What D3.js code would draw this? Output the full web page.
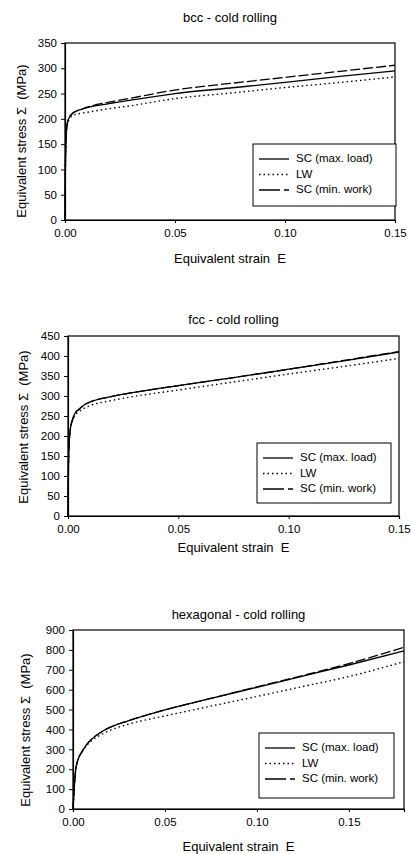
<!DOCTYPE html>
<html>
<head>
<meta charset="utf-8">
<script src="https://cdn.jsdelivr.net/npm/d3@7"></script>
<style>
  body { margin: 0; background: #fff; }
  svg { display: block; font-family: "Liberation Sans", Arial, sans-serif; }
</style>
</head>
<body>
<div id="chart"></div>
<script>
// Series names
const seriesNames = ["SC (max. load)", "LW", "SC (min. work)"];

// bcc - cold rolling
const bccStrain   = [0, 0.0002, 0.0005, 0.001, 0.002, 0.003, 0.005, 0.0075, 0.01, 0.02, 0.03, 0.05, 0.075, 0.10, 0.125, 0.15];
const bccMaxLoad  = [0, 110, 160, 190, 203, 209, 215, 219, 222, 230, 237, 250, 261, 272, 284, 295];
const bccLW       = [0, 110, 160, 188, 200, 205, 209, 211, 213, 220, 226, 240, 251, 262, 272, 283];
const bccMinWork  = [0, 110, 160, 190, 203, 209, 215, 219, 223, 233, 241, 257, 270, 282, 294, 306];
const bccYTicks   = [0, 50, 100, 150, 200, 250, 300, 350];
const bccXTicks   = [0, 0.05, 0.10, 0.15];

// fcc - cold rolling
const fccStrain   = [0, 0.0002, 0.0005, 0.001, 0.002, 0.003, 0.005, 0.0075, 0.01, 0.02, 0.03, 0.05, 0.075, 0.10, 0.125, 0.15];
const fccMaxLoad  = [0, 120, 180, 215, 240, 255, 267, 278, 285, 299, 309, 326, 346, 367, 388, 410];
const fccLW       = [0, 120, 180, 213, 237, 250, 261, 270, 276, 289, 299, 315, 335, 355, 374, 394];
const fccMinWork  = [0, 120, 180, 215, 240, 255, 267, 278, 285, 299, 309, 326, 346, 367, 389, 411];
const fccYTicks   = [0, 50, 100, 150, 200, 250, 300, 350, 400, 450];
const fccXTicks   = [0, 0.05, 0.10, 0.15];

// hexagonal - cold rolling
const hexStrain   = [0, 0.0005, 0.001, 0.0015, 0.002, 0.003, 0.005, 0.0075, 0.01, 0.015, 0.02, 0.03, 0.05, 0.075, 0.10, 0.125, 0.15, 0.18];
const hexMaxLoad  = [0, 80, 150, 200, 225, 255, 290, 325, 350, 385, 410, 443, 498, 556, 612, 668, 724, 795];
const hexLW       = [0, 80, 150, 200, 225, 255, 288, 320, 343, 372, 395, 426, 468, 517, 566, 616, 666, 741];
const hexMinWork  = [0, 80, 150, 200, 225, 255, 290, 325, 350, 385, 410, 443, 498, 556, 614, 671, 731, 813];
const hexYTicks   = [0, 100, 200, 300, 400, 500, 600, 700, 800, 900];
const hexXTicks   = [0, 0.05, 0.10, 0.15];

const W = 411, H = 854;
const svg = d3.select("#chart").append("svg")
    .attr("width", W).attr("height", H)
    .attr("viewBox", [0, 0, W, H]);

// line styles for the three series
const dashes = [null, "1.5,3", "10,3"];
const legendDashes = [null, "1.5,3", "21,4,5,4"];

const panels = [
  { title: "bcc - cold rolling", strain: bccStrain, ys: [bccMaxLoad, bccLW, bccMinWork],
    xMax: 0.15, yMax: 350, xTicks: bccXTicks, yTicks: bccYTicks,
    left: 65, right: 395, top: 43, bottom: 220, titleY: 21.5, xLabY: 263, yLabX: 23, yLabY: 141,
    legend: { x: 253, y: 144, w: 143, h: 62 } },
  { title: "fcc - cold rolling", strain: fccStrain, ys: [fccMaxLoad, fccLW, fccMinWork],
    xMax: 0.15, yMax: 450, xTicks: fccXTicks, yTicks: fccYTicks,
    left: 68, right: 399, top: 336, bottom: 516, titleY: 323.5, xLabY: 552, yLabX: 25, yLabY: 427,
    legend: { x: 257, y: 443, w: 134, h: 60 } },
  { title: "hexagonal - cold rolling", strain: hexStrain, ys: [hexMaxLoad, hexLW, hexMinWork],
    xMax: 0.18, yMax: 900, xTicks: hexXTicks, yTicks: hexYTicks,
    left: 73, right: 404, top: 630, bottom: 809, titleY: 618.5, xLabY: 851, yLabX: 27, yLabY: 730,
    legend: { x: 259, y: 733, w: 135, h: 65 } }
];

panels.forEach(p => {
  const x = d3.scaleLinear().domain([0, p.xMax]).range([p.left, p.right]);
  const y = d3.scaleLinear().domain([0, p.yMax]).range([p.bottom, p.top]);
  const g = svg.append("g");

  // Titulo
  g.append("text")
    .attr("x", (p.left + p.right) / 2).attr("y", p.titleY)
    .attr("text-anchor", "middle").attr("font-size", 13)
    .text(p.title);

  // Marco del grafico
  g.append("rect")
    .attr("x", p.left).attr("y", p.top)
    .attr("width", p.right - p.left).attr("height", p.bottom - p.top)
    .attr("fill", "none").attr("stroke", "#000").attr("stroke-width", 1.2);

  // Ejes
  const xAxis = g.append("g")
    .attr("transform", `translate(0,${p.bottom})`)
    .call(d3.axisBottom(x).tickValues(p.xTicks).tickFormat(d3.format(".2f")).tickSize(3).tickPadding(6));
  const yAxis = g.append("g")
    .attr("transform", `translate(${p.left},0)`)
    .call(d3.axisLeft(y).tickValues(p.yTicks).tickSize(4).tickPadding(4));
  [xAxis, yAxis].forEach(a => {
    a.attr("font-family", null).attr("font-size", 11.5);
    a.select(".domain").attr("stroke", "#000").attr("stroke-width", 1.2);
    a.selectAll(".tick line").attr("stroke", "#000");
    a.selectAll(".tick text").attr("fill", "#000");
  });

  // Etiquetas de ejes
  g.append("text")
    .attr("x", (p.left + p.right) / 2).attr("y", p.xLabY)
    .attr("text-anchor", "middle").attr("font-size", 13)
    .attr("xml:space", "preserve")
    .text("Equivalent strain  E");
  g.append("text")
    .attr("transform", `translate(${p.yLabX},${p.yLabY}) rotate(-90)`)
    .attr("text-anchor", "middle").attr("font-size", 13)
    .attr("dominant-baseline", "middle")
    .attr("xml:space", "preserve")
    .text("Equivalent stress \u03A3  (MPa)");

  // Curvas
  const line = d3.line()
    .x(d => x(d[0])).y(d => y(d[1]))
    .curve(d3.curveMonotoneX);
  // LW primero, luego min. work, y max. load encima
  [1, 2, 0].forEach(i => {
    const pts = p.strain.map((s, k) => [s, p.ys[i][k]]);
    g.append("path")
      .datum(pts)
      .attr("fill", "none")
      .attr("stroke", "#000")
      .attr("stroke-width", i === 1 ? 1.4 : 1.3)
      .attr("stroke-dasharray", dashes[i])
      .attr("d", line);
  });

  // Leyenda
  const L = p.legend;
  const lg = g.append("g").attr("transform", `translate(${L.x},${L.y})`);
  lg.append("rect")
    .attr("width", L.w).attr("height", L.h)
    .attr("fill", "#fff").attr("stroke", "#000").attr("stroke-width", 1);
  seriesNames.forEach((name, i) => {
    const ry = 15 + i * 15.5;
    lg.append("line")
      .attr("x1", 6).attr("x2", 36).attr("y1", ry).attr("y2", ry)
      .attr("stroke", "#000").attr("stroke-width", 1.3)
      .attr("stroke-dasharray", legendDashes[i]);
    lg.append("text")
      .attr("x", 43).attr("y", ry)
      .attr("dominant-baseline", "middle")
      .attr("font-size", 11.5)
      .text(name);
  });
});
</script>
</body>
</html>
